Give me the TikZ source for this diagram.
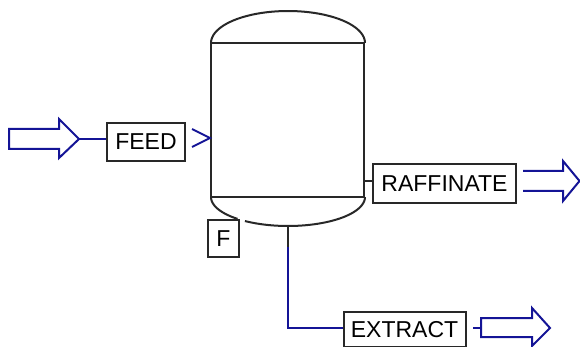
\documentclass[tikz,border=0pt]{standalone}
\usepackage{fontspec}
\setmainfont{Liberation Sans}
\definecolor{strm}{RGB}{20,20,150}
\definecolor{eq}{RGB}{40,40,40}
\tikzset{
  eqline/.style={draw=eq,line width=2pt},
  strmline/.style={draw=strm,line width=2pt,line join=miter},
  tag/.style={draw=eq,line width=2pt,fill=white,inner sep=0pt,text=black,anchor=center,
    font=\fontsize{23}{24}\selectfont},
}
\begin{document}
\begin{tikzpicture}[x=1pt,y=-1pt]
\useasboundingbox (0,0) rectangle (580,347);
% vessel
\draw[eqline] plot[domain=180:360,samples=50] ({288+77*cos(\x)},{43+32*sin(\x)});
\node[inner sep=0pt,minimum width=153pt,minimum height=154pt,draw=eq,line width=2pt] (vessel) at (287.5,120) {};
\draw[eqline] plot[domain=0:124,samples=40] ({288+77*cos(\x)},{197+29*sin(\x)});
\draw[eqline] plot[domain=131:180,samples=20] ({288+77*cos(\x)},{197+29*sin(\x)});
\coordinate (bottom) at (288.4,226);
\coordinate (pipe) at (288.4,247);
\coordinate (corner) at (288.4,328);
% labels
\node[tag,minimum width=78pt,minimum height=38pt] (feed) at (146,142) {FEED\hspace{4pt}};
\node[tag,minimum width=31pt,minimum height=37pt] (f) at (223.5,238.5) {F};
\node[tag,minimum width=143pt,minimum height=39pt] (raff) at (444.5,183.5) {RAFFINATE\hspace{5pt}};
\node[tag,minimum width=122pt,minimum height=35pt] (extract) at (404.5,329.5) {EXTRACT\hspace{5pt}};
% feed arrow
\coordinate (feedtip) at (79,139);
\draw[strmline] (9,129) -- (59,129) -- (59,119) -- (feedtip) -- (59,158) -- (59,149) -- (9,149) -- cycle;
\draw[strmline] (feedtip) -- (feed.west |- feedtip);
\coordinate (inlet) at (vessel.west |- 0,138);
\draw[strmline] (192,129) -- (inlet) -- (192,147);
% raffinate
\coordinate (rafftap) at (vessel.east |- 0,181);
\draw[eqline] (rafftap) -- (raff.west |- rafftap);
\draw[strmline] (523,171) -- (563,171) -- (563,161) -- (579.5,181) -- (563,201) -- (563,191) -- (523,191);
% extract
\draw[eqline] (bottom) -- (pipe);
\draw[strmline] (pipe) -- (corner) -- (extract.west |- corner);
\coordinate (extail) at (481,328);
\draw[strmline] (473,328) -- (extail);
\draw[strmline] (481,318) -- (532,318) -- (532,308) -- (550,328) -- (532,346) -- (532,337) -- (481,337) -- cycle;
\end{tikzpicture}
\end{document}
